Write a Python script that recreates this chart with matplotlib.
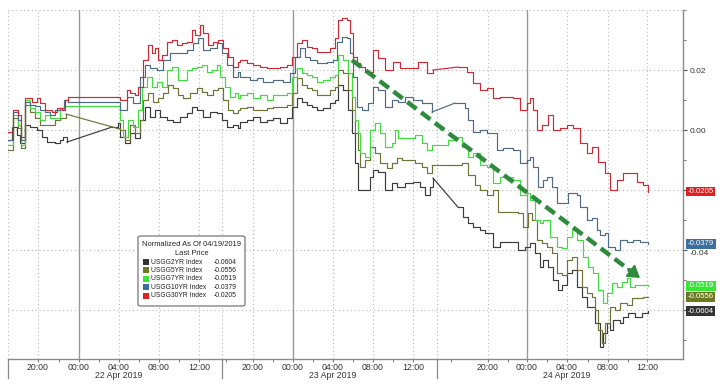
import numpy as np
import matplotlib
matplotlib.use('Agg')
import matplotlib.pyplot as plt
from matplotlib.patches import FancyBboxPatch, Rectangle
from matplotlib.transforms import blended_transform_factory

plt.rcParams['font.family'] = ['Liberation Sans', 'DejaVu Sans']

# ---------------- data (time in session-hours from chart start, change in bp) ----
tick_pos = [3.0, 7.1, 11.1, 15.1, 19.1, 24.5, 28.5, 32.5, 36.5, 40.5, 48.0, 51.9, 55.9, 60.0, 63.9]
tick_labels = ['20:00', '00:00', '04:00', '08:00', '12:00', '20:00', '00:00', '04:00',
               '08:00', '12:00', '20:00', '00:00', '04:00', '08:00', '12:00']
midnights = [7.1, 28.5, 51.9]
session_breaks = [0.0, 21.4, 42.9]
date_labels = ['22 Apr 2019', '23 Apr 2019', '24 Apr 2019']
date_pos = [11.1, 32.5, 55.9]

t_30y = [0.0, 0.5, 1.0, 1.3, 1.7, 2.4, 2.9, 3.2, 3.7, 4.4, 4.9, 5.4, 5.7, 6.0, 10.9,
         11.2, 11.9, 12.2, 12.7, 13.0, 13.5, 14.0, 14.4, 14.7, 15.0, 15.4, 15.9, 16.4, 16.9,
         17.4, 17.9, 18.4, 18.7, 19.2, 19.5, 20.0, 20.5, 21.0, 21.5, 22.0, 22.5, 23.0, 23.2,
         23.9, 24.5, 25.2, 25.9, 26.5, 27.2, 27.9, 28.4, 28.9, 29.4, 29.9, 30.4, 30.9, 31.5,
         32.2, 32.7, 33.0, 33.4, 33.9, 34.2, 34.5, 34.9, 35.2, 35.7, 36.5, 37.0, 37.7, 38.5,
         39.2, 40.2, 41.0, 41.9, 42.5, 45.0, 45.9, 46.5, 47.2, 47.9, 48.5, 49.2, 49.9, 50.5,
         51.2, 51.9, 52.2, 52.5, 52.9, 53.4, 54.0, 54.5, 55.2, 55.9, 56.5, 57.2, 57.9, 58.4,
         59.0, 59.7, 60.2, 60.9, 61.5, 62.2, 62.9, 63.5, 64.0]
v_30y = [-0.07, 0.67, 0.50, -0.23, 1.07, 0.93, 1.07, 0.90, 0.67, 0.60, 0.73, 0.67, 1.00, 1.10, 1.10,
         1.00, 1.33, 1.23, 1.17, 1.43, 2.33, 2.83, 2.57, 2.73, 2.33, 2.50, 2.93, 3.00, 2.83,
         2.90, 2.93, 3.33, 3.17, 3.50, 3.23, 2.83, 2.93, 3.00, 2.73, 2.43, 2.10, 2.27, 2.33,
         2.23, 2.17, 2.10, 2.07, 2.07, 2.10, 2.17, 2.43, 2.90, 3.00, 2.77, 2.73, 2.60, 2.60,
         2.73, 3.07, 3.67, 3.73, 3.67, 3.23, 2.43, 2.23, 2.10, 1.93, 2.67, 2.40, 2.00, 2.27,
         2.07, 2.07, 2.27, 1.90, 2.00, 2.10, 1.93, 1.57, 1.33, 1.40, 1.07, 1.10, 1.10, 1.07,
         0.67, 0.90, 1.07, 0.67, 0.00, 0.17, 0.50, 0.00, 0.07, 0.17, 0.07, -0.43, -0.77, -0.57,
         -1.07, -1.43, -2.00, -1.67, -1.43, -1.43, -1.73, -1.83, -2.05]

t_10y = [0.0, 0.5, 1.0, 1.3, 1.7, 2.2, 2.7, 3.2, 3.7, 4.2, 4.7, 5.2, 5.6, 6.0, 10.9,
         11.2, 11.9, 12.5, 13.2, 13.7, 14.2, 14.9, 15.5, 16.2, 17.2, 17.9, 18.5, 19.0, 19.5,
         20.2, 20.9, 21.4, 21.9, 22.5, 23.0, 23.2, 24.2, 24.9, 25.5, 26.5, 27.5, 28.2, 28.7,
         29.2, 29.7, 30.2, 30.9, 31.9, 32.5, 32.9, 33.4, 33.9, 34.2, 34.5, 34.9, 35.4, 36.0,
         36.5, 37.0, 37.7, 38.4, 39.0, 39.7, 40.5, 41.4, 42.4, 44.7, 45.7, 46.0, 46.5, 47.2,
         47.9, 48.9, 49.5, 50.5, 51.2, 51.9, 52.2, 52.5, 53.0, 53.5, 53.9, 54.4, 54.9, 55.5,
         56.0, 56.9, 57.2, 57.9, 58.4, 58.9, 59.2, 59.7, 60.0, 60.7, 61.2, 61.9, 62.5, 63.2, 64.0]
v_10y = [-0.33, 0.60, 0.33, -0.33, 0.93, 0.83, 0.80, 0.67, 0.60, 0.50, 0.67, 0.73, 1.00, 0.93, 0.93,
         0.67, 1.10, 0.90, 1.77, 2.17, 2.07, 2.00, 2.33, 2.57, 2.57, 2.67, 2.90, 3.07, 2.67,
         2.73, 2.90, 2.57, 2.17, 1.77, 1.93, 1.77, 1.67, 1.73, 1.60, 1.67, 1.60, 1.90, 2.43,
         2.73, 2.43, 2.33, 2.23, 2.27, 2.33, 2.93, 3.10, 3.07, 2.57, 1.77, 0.77, 0.67, 0.90,
         1.43, 1.33, 0.77, 1.00, 0.93, 1.10, 1.00, 0.90, 0.60, 0.90, 0.73, 0.33, -0.07, 0.00,
         -0.10, -0.67, -0.60, -0.67, -1.10, -1.00, -0.90, -1.23, -1.90, -1.67, -1.57, -1.90, -2.43, -2.43,
         -2.10, -2.17, -2.57, -3.00, -2.93, -3.33, -3.50, -3.43, -3.90, -4.00, -3.67, -3.73, -3.67, -3.73, -3.79]

t_7y = [0.0, 0.5, 1.0, 1.3, 1.7, 2.2, 2.7, 3.2, 3.7, 4.2, 4.7, 5.2, 5.6, 6.0, 10.9,
        11.2, 11.5, 12.0, 12.5, 13.0, 13.4, 13.9, 14.4, 14.9, 15.4, 15.9, 16.4, 17.0, 17.9,
        18.4, 18.9, 19.4, 19.9, 20.4, 20.9, 21.2, 21.7, 22.2, 22.7, 23.0, 23.2, 23.9, 24.5,
        25.2, 25.9, 26.5, 27.2, 27.9, 28.4, 28.9, 29.4, 29.9, 30.4, 30.9, 31.5, 32.2, 32.7,
        33.0, 33.5, 34.0, 34.4, 34.7, 35.0, 35.2, 35.7, 36.2, 36.7, 37.2, 37.7, 38.4, 38.7,
        39.0, 39.7, 40.7, 41.4, 41.9, 42.4, 44.0, 44.7, 45.4, 46.0, 46.5, 47.2, 47.9, 48.5,
        49.2, 50.5, 51.2, 51.9, 52.2, 52.7, 53.2, 53.5, 54.2, 54.9, 55.4, 55.9, 56.4, 56.9,
        57.5, 58.0, 58.5, 59.0, 59.5, 59.9, 60.4, 60.9, 61.4, 61.9, 62.2, 62.7, 63.4, 64.0]
v_7y = [-0.50, 0.50, 0.17, -0.50, 1.00, 0.73, 0.60, 0.33, 0.50, 0.40, 0.40, 0.67, 0.80, 0.80, 0.80,
        0.33, -0.23, 0.33, 0.10, 0.67, 1.43, 1.77, 1.43, 1.60, 1.43, 2.00, 2.10, 1.67, 2.00,
        2.07, 2.10, 2.17, 1.93, 2.00, 2.17, 1.77, 1.43, 1.10, 1.23, 1.07, 1.17, 1.23, 1.07,
        1.17, 1.00, 1.17, 1.17, 1.23, 1.77, 2.07, 1.90, 1.83, 1.77, 1.60, 1.67, 1.77, 1.83,
        2.50, 2.33, 1.90, 1.10, 0.33, -0.10, -0.77, -0.90, 0.00, 0.23, -0.10, -0.57, -0.43, 0.00,
        -0.27, -0.27, -0.17, -0.43, -0.67, -0.50, -0.33, -0.23, -0.57, -0.90, -0.77, -1.17, -1.23, -1.77,
        -1.57, -1.67, -2.17, -2.10, -2.33, -3.00, -3.10, -3.00, -3.57, -3.90, -3.93, -3.57, -3.33, -3.67,
        -4.23, -4.57, -4.77, -5.33, -5.77, -5.43, -5.10, -5.23, -5.07, -4.93, -5.23, -5.17, -5.17, -5.19]

t_5y = [0.0, 0.5, 1.0, 1.3, 1.7, 2.2, 2.7, 3.2, 3.7, 4.2, 4.7, 5.2, 5.8, 10.8,
        11.2, 11.7, 12.2, 12.7, 13.2, 13.5, 14.0, 14.5, 15.0, 15.5, 16.0, 16.5, 17.0, 17.5,
        18.2, 18.9, 19.4, 19.9, 20.5, 21.0, 21.5, 22.0, 22.5, 23.0, 23.2, 23.9, 24.5, 25.2,
        25.9, 26.5, 27.2, 27.9, 28.4, 28.9, 29.4, 29.9, 30.4, 30.9, 31.5, 32.2, 32.7, 33.0,
        33.5, 34.0, 34.4, 34.7, 35.0, 35.2, 35.7, 36.2, 36.7, 37.2, 37.9, 38.4, 38.9, 39.4,
        40.0, 40.7, 41.4, 41.9, 42.4, 44.7, 45.4, 46.0, 46.7, 47.2, 47.9, 48.5, 49.0, 50.5,
        51.0, 51.5, 52.0, 52.4, 52.9, 53.4, 53.9, 54.4, 54.9, 55.4, 55.9, 56.4, 56.9, 57.4,
        57.9, 58.4, 58.7, 59.0, 59.4, 59.7, 60.2, 60.7, 61.2, 61.9, 62.4, 63.0, 63.5, 64.0]
v_5y = [-0.67, 0.40, 0.07, -0.60, 0.83, 0.60, 0.40, 0.17, 0.17, 0.17, 0.33, 0.40, 0.53, 0.07,
        0.00, -0.33, 0.17, -0.10, 0.33, 1.00, 1.23, 0.93, 1.07, 1.23, 1.50, 1.40, 1.17, 1.07,
        1.23, 1.40, 1.27, 1.17, 1.33, 1.40, 1.00, 0.67, 0.57, 0.67, 0.73, 0.77, 0.67, 0.67,
        0.73, 0.77, 0.77, 0.83, 1.23, 1.73, 1.50, 1.40, 1.33, 1.17, 1.17, 1.33, 1.43, 2.00,
        1.90, 1.33, 0.67, -0.10, -0.67, -1.23, -1.00, -0.57, -0.77, -1.10, -1.27, -1.10, -0.93, -1.00,
        -1.00, -1.10, -1.23, -1.43, -1.17, -1.17, -1.10, -1.50, -1.83, -2.00, -2.17, -2.00, -2.73, -2.73,
        -2.77, -3.23, -2.77, -3.00, -3.67, -3.77, -3.90, -4.10, -4.77, -4.83, -4.33, -4.23, -4.67, -5.23,
        -5.43, -5.57, -6.00, -6.67, -7.10, -6.43, -5.90, -6.00, -5.77, -5.83, -5.60, -5.60, -5.57, -5.56]

t_2y = [0.0, 0.4, 0.9, 1.2, 1.7, 2.2, 2.9, 3.4, 3.9, 4.7, 5.2, 5.5, 5.9, 10.4, 11.0,
        11.2, 11.7, 12.2, 12.7, 13.2, 13.7, 14.2, 14.7, 15.2, 15.9, 16.5, 17.2, 17.9, 18.4,
        18.9, 19.5, 20.2, 20.9, 21.4, 21.9, 22.5, 23.0, 23.2, 23.9, 24.5, 25.2, 25.9, 26.5,
        27.2, 27.9, 28.4, 28.9, 29.4, 29.9, 30.4, 30.9, 31.5, 32.2, 32.7, 33.0, 33.5, 34.0,
        34.4, 34.7, 35.0, 35.5, 36.2, 36.5, 37.0, 37.7, 38.4, 38.9, 39.7, 40.5, 41.2, 41.7,
        42.2, 42.5, 45.0, 45.5, 46.0, 46.5, 47.2, 47.7, 48.5, 49.2, 50.2, 51.0, 51.7, 52.2,
        52.7, 53.2, 53.5, 54.0, 54.5, 55.0, 55.4, 55.9, 56.4, 56.9, 57.4, 57.9, 58.4, 58.7,
        59.2, 59.5, 59.9, 60.2, 60.5, 61.2, 61.5, 62.0, 62.7, 63.4, 64.0]
v_2y = [-0.33, 0.10, -0.17, -0.43, 0.17, 0.10, 0.00, -0.23, -0.40, -0.43, -0.33, -0.23, -0.40, 0.10, 0.23,
        -0.23, -0.43, -0.10, -0.27, 0.33, 0.77, 0.43, 0.67, 0.43, 0.33, 0.27, 0.43, 0.57, 0.77,
        0.67, 0.43, 0.60, 0.57, 0.33, 0.10, 0.17, 0.07, 0.27, 0.33, 0.43, 0.27, 0.33, 0.40,
        0.23, 0.40, 0.77, 1.07, 0.93, 0.83, 0.77, 0.67, 0.73, 0.90, 1.00, 1.50, 1.33, 0.67,
        -0.10, -1.10, -2.00, -2.00, -1.57, -1.33, -1.40, -2.00, -1.77, -1.90, -1.77, -1.73, -1.90, -2.17,
        -1.90, -1.60, -2.57, -2.90, -3.10, -3.23, -3.33, -3.43, -3.90, -3.73, -3.73, -4.00, -3.90, -3.77,
        -4.10, -4.57, -4.33, -4.57, -5.00, -5.33, -5.17, -4.77, -4.67, -5.23, -5.57, -5.90, -5.90, -6.43,
        -7.23, -6.77, -6.43, -6.67, -6.33, -6.43, -6.23, -6.10, -6.23, -6.10, -6.04]

series_names = ['USGG2YR Index', 'USGG5YR Index', 'USGG7YR Index', 'USGG10YR Index', 'USGG30YR Index']
series_t = [t_2y, t_5y, t_7y, t_10y, t_30y]
series_v = [v_2y, v_5y, v_7y, v_10y, v_30y]
last_values = [-0.0604, -0.0556, -0.0519, -0.0379, -0.0205]
line_colors = ['#3c3c3c', '#6f7436', '#3fdc3f', '#4f6a84', '#cc2a35']
label_colors = ['#333333', '#6b7a1e', '#35e635', '#3c6e9e', '#e0201e']

arrow_start = (34.4, 0.0233)
arrow_end = (63.2, -0.0493)

# ---------------- figure ----------------
W, H = 727, 391
fig = plt.figure(figsize=(W / 100, H / 100), dpi=100)
fig.patch.set_facecolor('white')
ax = fig.add_axes([8 / W, 1 - 359 / H, (683 - 8) / W, (359 - 10) / H])
ax.set_xlim(0, 67.5)
ax.set_ylim(-0.0763, 0.04)

grid_kw = dict(color='#b5b5b5', lw=0.8, ls=(0, (1, 2.5)), zorder=0)
for yv in [0.04, 0.02, 0.0, -0.02, -0.04, -0.06]:
    ax.axhline(yv, **grid_kw)
for xp in tick_pos:
    if xp in midnights:
        ax.axvline(xp, color='#9a9a9a', lw=1.0, zorder=0)
    else:
        ax.axvline(xp, **grid_kw)
for xb in session_breaks:
    ax.axvline(xb, **grid_kw)
    ax.axvline(xb, ymin=-0.055, ymax=0, color='#8a8a8a', lw=0.9, clip_on=False)

# lines: stepped tick data, with straight joins across session gaps
for t, v, c in zip(series_t, series_v, line_colors):
    t = np.asarray(t, float)
    y = np.asarray(v, float) / 100.0
    dt = np.diff(t)
    cut = np.where(dt > 2.0)[0]
    start = 0
    for k in list(cut) + [len(t) - 1]:
        ax.plot(t[start:k + 1], y[start:k + 1], color=c, lw=0.85, zorder=3, drawstyle='steps-post')
        if k < len(t) - 1:
            ax.plot(t[k:k + 2], y[k:k + 2], color=c, lw=0.85, zorder=3)
        start = k + 1

# dashed trend arrow
ax.plot([arrow_start[0], arrow_end[0] - 0.6], [arrow_start[1], arrow_end[1] + 0.0015],
        color='#2e8b3e', lw=3.2, ls=(0, (2.6, 1.3)), zorder=4, solid_capstyle='butt')
ax.annotate('', xy=arrow_end, xytext=(arrow_end[0] - 1.2, arrow_end[1] + 0.003),
            arrowprops=dict(arrowstyle='-|>,head_length=0.7,head_width=0.45', color='#2e8b3e',
                            lw=1.5, shrinkA=0, shrinkB=0), zorder=4)

# spines
for s in ['top', 'left']:
    ax.spines[s].set_visible(False)
ax.spines['right'].set_color('#8a8a8a')
ax.spines['bottom'].set_color('#8a8a8a')
ax.spines['right'].set_linewidth(1.0)
ax.spines['bottom'].set_linewidth(1.0)

# y axis on right (labels at -0.02 and -0.06 sit under the last-value tags)
ax.yaxis.tick_right()
ax.set_yticks([0.02, 0.0, -0.02, -0.04, -0.06])
ax.set_yticklabels(['0.02', '0.00', '', '-0.04', ''])
ax.set_yticks(np.arange(-0.07, 0.045, 0.01), minor=True)
ax.tick_params(axis='y', which='major', length=3, width=0.8, color='#555555', labelsize=6,
               labelcolor='#333333', pad=1.5)
ax.tick_params(axis='y', which='minor', length=2, width=0.7, color='#777777')
for lab in ax.get_yticklabels():
    if lab.get_text() == '-0.04':
        lab.set_va('top')

# x axis
ax.set_xticks(tick_pos)
ax.set_xticklabels(tick_labels)
minor_x = [(a + b) / 2 for a, b in zip(tick_pos[:-1], tick_pos[1:])]
ax.set_xticks(minor_x, minor=True)
ax.tick_params(axis='x', which='major', length=2, width=0.7, color='#777777', labelsize=6.3,
               labelcolor='#333333', pad=0.8)
ax.tick_params(axis='x', which='minor', length=2, width=0.7, color='#777777')

btrans = blended_transform_factory(ax.transData, ax.transAxes)
for d, xp in zip(date_labels, date_pos):
    ax.text(xp, -0.033, d, transform=btrans, ha='center', va='top', fontsize=6.3, color='#333333')

# right side last-value labels
rtrans = blended_transform_factory(ax.transAxes, ax.transData)
for lv, lc in zip(last_values, label_colors):
    ax.annotate(f'{lv:.4f}', xy=(1.0, lv), xycoords=rtrans, xytext=(3.5, 0), textcoords='offset points',
                ha='left', va='center', fontsize=5.6, color='white', zorder=10,
                bbox=dict(boxstyle='square,pad=0.18', fc=lc, ec='none'), annotation_clip=False)

# legend box (built manually)
def fx(px):
    return px / W

def fy(py):
    return 1 - py / H

box = FancyBboxPatch((fx(138), fy(306)), fx(245) - fx(138), fy(236) - fy(306),
                     boxstyle='round,pad=0,rounding_size=0.004', transform=fig.transFigure,
                     fc='white', ec='#777777', lw=0.9, zorder=20)
fig.patches.append(box)
fig.text(fx(191.5), fy(244.5), 'Normalized As Of 04/19/2019', ha='center', va='center', fontsize=5.4,
         color='#222222', zorder=21)
fig.text(fx(191.5), fy(253.5), 'Last Price', ha='center', va='center', fontsize=5.4, color='#222222',
         zorder=21)
lfs = 4.9
for i, (nm, lv, lc) in enumerate(zip(series_names, last_values, label_colors)):
    yy = 262 + i * 8.4
    fig.patches.append(Rectangle((fx(143), fy(yy + 3)), fx(6), fy(0) - fy(6), transform=fig.transFigure,
                                 fc=lc, ec='none', zorder=21))
    fig.text(fx(151), fy(yy), nm, ha='left', va='center', fontsize=lfs, color='#222222', zorder=21)
    fig.text(fx(237), fy(yy), f'{lv:.4f}', ha='right', va='center', fontsize=lfs, color='#222222', zorder=21)

fig.savefig('out.png', dpi=100, facecolor='white')
